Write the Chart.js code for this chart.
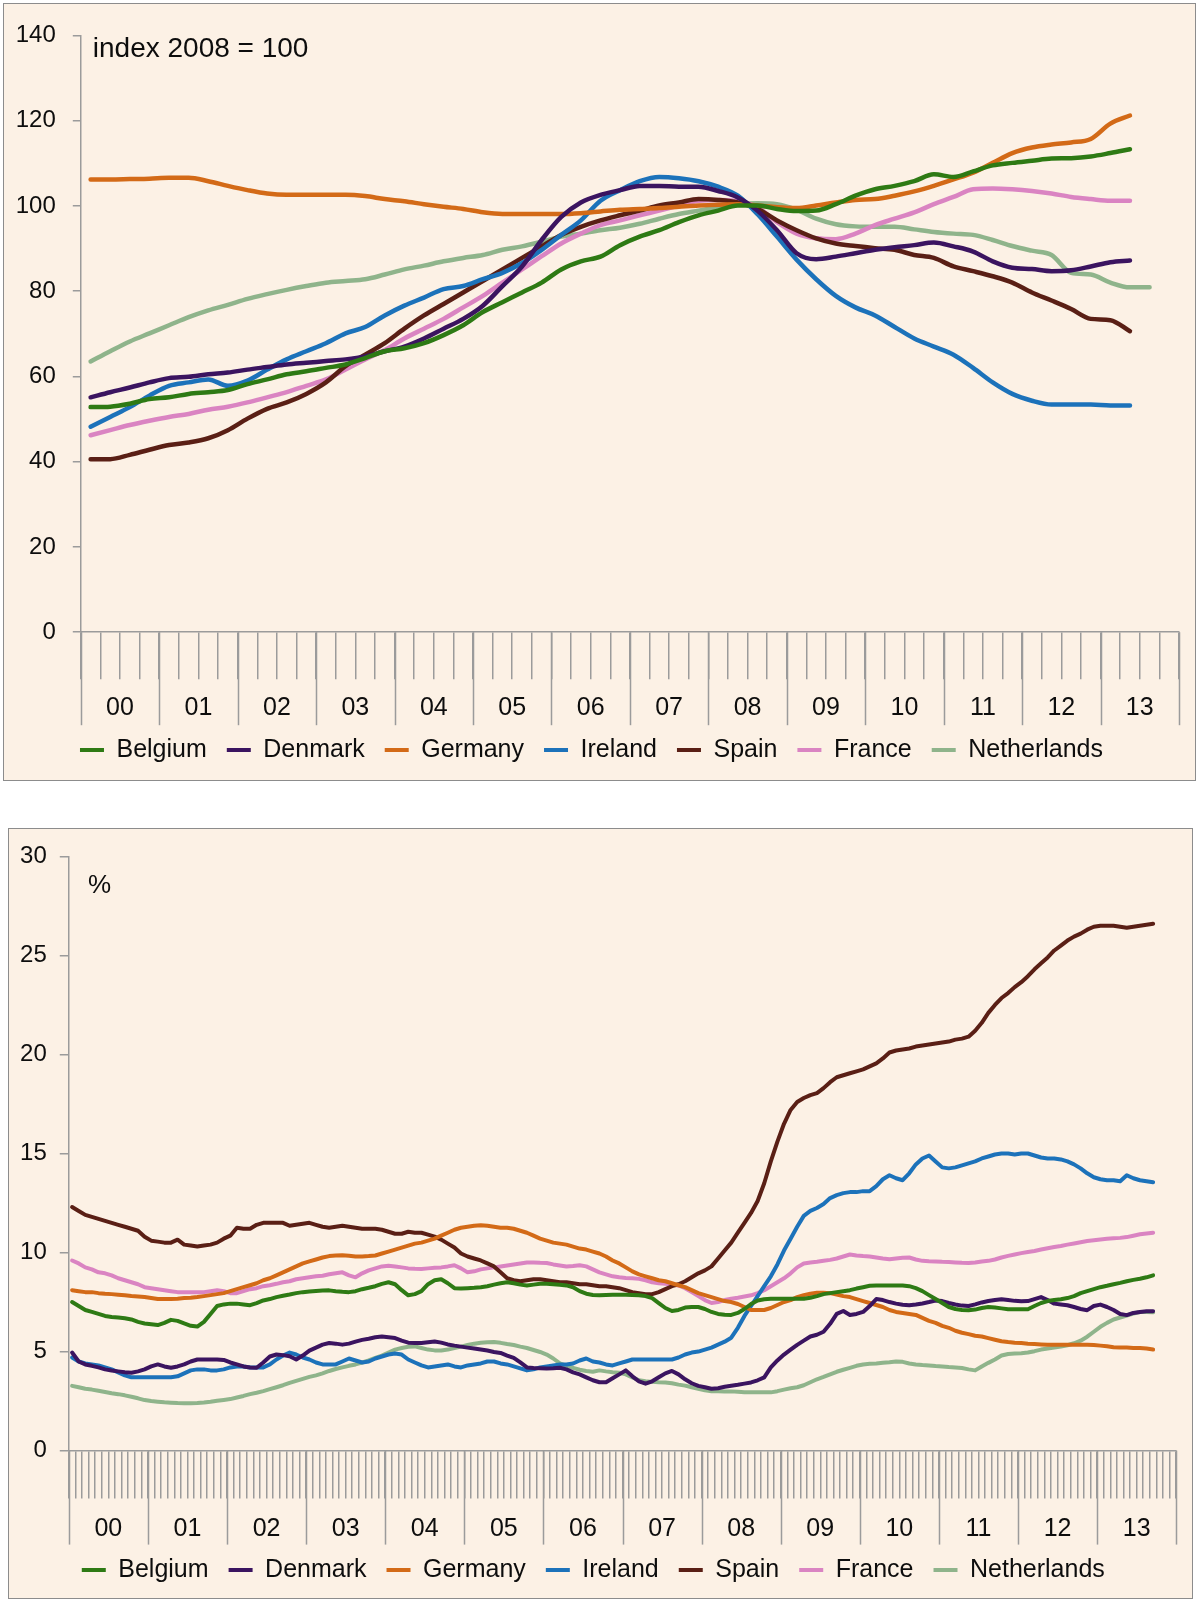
<!DOCTYPE html>
<html><head><meta charset="utf-8">
<script src="https://cdn.jsdelivr.net/npm/chart.js@4.4.1/dist/chart.umd.min.js"></script>
<style>
html,body{margin:0;padding:0;background:#ffffff;width:1200px;height:1604px;overflow:hidden;}
.panel{position:absolute;background:#FCF1E5;border:1px solid #8c8c8c;}
#p1{left:3px;top:3px;width:1191px;height:776px;}
#p2{left:8px;top:828px;width:1183px;height:769px;}
canvas{position:absolute;left:0;top:0;}
</style></head><body>
<div class="panel" id="p1"><canvas id="c1" width="1191" height="776" style="width:1191px;height:776px"></canvas></div>
<div class="panel" id="p2"><canvas id="c2" width="1183" height="769" style="width:1183px;height:769px"></canvas></div>
<script>
// ---------- shared ----------
const yearLabels = ['00','01','02','03','04','05','06','07','08','09','10','11','12','13'];
const countries = ['Belgium','Denmark','Germany','Ireland','Spain','France','Netherlands'];
const lineColors = ['#2E7A14','#3B1460','#D36A17','#1C72BA','#5A1F15','#DA84C2','#8FB48B'];

// ---------- top chart: house prices, quarterly from 2000Q1, index 2008 = 100 ----------
const belgiumIdx = [52.8,52.9,53.6,54.7,55.1,55.9,56.3,56.8,58.2,59.3,60.5,61.2,62.0,62.8,64.3,65.9,66.6,67.8,69.7,72.0,75.1,77.4,79.7,82.0,85.1,87.0,88.1,90.8,92.8,94.3,96.2,97.8,98.9,100.1,100.1,99.3,98.8,98.9,100.4,102.4,103.9,104.7,105.8,107.4,106.8,108.1,109.5,110.1,110.6,111.1,111.2,111.6,112.4,113.3];
const denmarkIdx = [55.1,56.3,57.4,58.6,59.6,59.9,60.5,60.9,61.6,62.2,62.8,63.2,63.6,64.0,64.7,65.9,67.0,68.9,71.2,73.5,76.6,81.2,85.8,92.0,97.4,100.8,102.6,103.7,104.7,104.7,104.5,104.5,103.5,102.0,98.9,94.3,88.9,87.5,88.1,88.9,89.7,90.3,90.8,91.4,90.5,89.3,87.0,85.5,85.2,84.7,84.9,85.8,86.8,87.2];
const germanyIdx = [106.2,106.2,106.3,106.4,106.6,106.6,105.8,104.7,103.7,102.9,102.6,102.6,102.6,102.6,102.3,101.6,101.1,100.4,99.8,99.3,98.5,98.1,98.1,98.1,98.1,98.3,98.7,99.1,99.3,99.5,99.8,100.1,100.3,100.4,100.1,99.7,99.5,100.1,100.8,101.4,101.6,102.4,103.4,104.7,106.2,107.8,110.1,112.4,113.7,114.4,114.9,115.7,119.3,121.2];
const irelandIdx = [48.2,50.5,52.8,55.5,57.8,58.6,59.3,57.8,59.0,61.6,64.0,65.9,67.8,70.1,71.6,74.3,76.6,78.5,80.5,81.2,82.8,84.3,86.6,89.7,93.2,96.6,101.2,103.7,105.8,106.8,106.5,105.8,104.5,102.4,98.1,92.8,87.4,82.8,78.9,76.2,74.3,71.6,68.9,67.0,65.1,62.0,58.6,55.9,54.3,53.4,53.4,53.4,53.2,53.2];
const spainIdx = [40.6,40.6,41.6,42.8,43.9,44.5,45.5,47.4,50.1,52.4,53.9,55.9,58.6,62.4,65.1,67.8,71.2,74.3,77.0,79.7,82.4,85.1,87.8,90.5,93.2,95.1,96.6,97.8,98.9,100.1,100.8,101.6,101.4,100.8,99.3,96.6,94.3,92.4,91.2,90.6,90.1,89.7,88.5,87.8,85.8,84.7,83.5,82.0,79.7,77.8,75.8,73.5,73.2,70.6];
const franceIdx = [46.2,47.4,48.6,49.6,50.5,51.2,52.2,52.9,53.9,55.1,56.3,57.8,59.3,61.6,64.0,66.2,68.9,71.2,73.5,76.2,78.9,82.0,85.1,88.2,91.2,93.5,95.5,96.6,97.8,98.9,100.1,101.2,101.4,101.1,99.7,96.2,93.5,92.4,92.2,93.5,95.5,97.0,98.5,100.4,102.1,103.9,104.1,103.9,103.5,102.9,102.1,101.6,101.2,101.2];
const netherlandsIdx = [63.5,65.9,68.2,70.1,72.0,73.9,75.5,76.8,78.2,79.3,80.3,81.2,82.0,82.4,82.8,83.9,85.1,86.0,87.0,87.8,88.5,89.7,90.5,91.6,92.8,93.5,94.3,94.9,95.8,97.0,98.1,98.9,99.7,100.4,100.6,100.4,99.1,97.0,95.7,95.2,95.1,95.1,94.5,93.9,93.5,93.2,92.0,90.6,89.5,88.5,84.3,83.9,82.0,80.9,80.9];
const yTicksTop = [0,20,40,60,80,100,120,140];

// ---------- bottom chart: unemployment rate, monthly from Jan 2000, % ----------
const belgiumUnemp = [
7.5,7.3,7.1,7.0,6.9,6.8,6.75,6.72,6.68,6.62,6.5,6.42,
6.38,6.34,6.45,6.6,6.55,6.42,6.3,6.26,6.5,6.9,7.3,7.38,
7.42,7.42,7.38,7.34,7.45,7.58,7.65,7.75,7.82,7.88,7.95,8.0,
8.03,8.06,8.08,8.09,8.05,8.02,8.0,8.05,8.15,8.22,8.3,8.42,
8.5,8.4,8.1,7.84,7.9,8.05,8.4,8.6,8.65,8.45,8.2,8.18,
8.2,8.22,8.25,8.3,8.38,8.45,8.5,8.45,8.38,8.34,8.38,8.42,
8.42,8.4,8.37,8.34,8.25,8.05,7.92,7.86,7.84,7.86,7.87,7.87,
7.87,7.86,7.84,7.8,7.7,7.45,7.2,7.05,7.1,7.22,7.25,7.25,
7.15,7.0,6.9,6.86,6.85,6.95,7.15,7.4,7.58,7.64,7.67,7.67,
7.67,7.67,7.67,7.67,7.72,7.8,7.9,7.95,8.0,8.05,8.1,8.18,
8.25,8.32,8.34,8.34,8.34,8.34,8.33,8.3,8.2,8.05,7.85,7.65,
7.45,7.25,7.15,7.1,7.09,7.12,7.2,7.25,7.22,7.18,7.14,7.14,
7.14,7.14,7.3,7.45,7.55,7.6,7.64,7.7,7.8,7.95,8.05,8.15,
8.25,8.32,8.4,8.47,8.55,8.62,8.68,8.75,8.85];
const denmarkUnemp = [
4.95,4.5,4.35,4.28,4.2,4.1,4.04,4.0,3.96,3.93,4.0,4.1,
4.25,4.35,4.25,4.18,4.25,4.35,4.5,4.6,4.6,4.6,4.6,4.58,
4.45,4.35,4.25,4.2,4.18,4.45,4.75,4.85,4.82,4.76,4.6,4.8,
5.05,5.2,5.35,5.43,5.4,5.35,5.4,5.5,5.59,5.65,5.72,5.76,
5.72,5.68,5.55,5.45,5.43,5.43,5.47,5.51,5.45,5.36,5.3,5.25,
5.2,5.15,5.1,5.05,4.98,4.93,4.8,4.68,4.45,4.2,4.17,4.16,
4.15,4.16,4.18,4.1,3.95,3.85,3.7,3.55,3.45,3.45,3.65,3.85,
4.05,3.75,3.5,3.38,3.5,3.7,3.9,4.02,3.85,3.6,3.4,3.27,
3.2,3.12,3.15,3.22,3.27,3.32,3.38,3.44,3.55,3.7,4.2,4.55,
4.85,5.1,5.34,5.55,5.76,5.85,6.0,6.4,6.9,7.05,6.85,6.9,
7.0,7.3,7.65,7.6,7.5,7.42,7.36,7.34,7.38,7.43,7.5,7.58,
7.55,7.45,7.38,7.32,7.3,7.38,7.48,7.55,7.6,7.64,7.6,7.56,
7.54,7.55,7.65,7.75,7.6,7.42,7.38,7.34,7.25,7.15,7.09,7.3,
7.37,7.25,7.1,6.9,6.84,6.95,7.0,7.03,7.04];
const germanyUnemp = [
8.1,8.05,8.0,8.0,7.95,7.92,7.9,7.87,7.84,7.8,7.78,7.75,
7.7,7.65,7.65,7.66,7.67,7.7,7.72,7.75,7.8,7.85,7.9,7.95,
8.05,8.15,8.25,8.35,8.45,8.6,8.7,8.85,9.0,9.15,9.3,9.45,
9.55,9.65,9.75,9.82,9.85,9.86,9.84,9.8,9.8,9.82,9.85,9.95,
10.05,10.15,10.25,10.35,10.45,10.5,10.6,10.7,10.85,11.0,11.15,11.25,
11.3,11.35,11.38,11.35,11.3,11.25,11.25,11.2,11.1,11.0,10.85,10.7,
10.6,10.5,10.45,10.4,10.3,10.2,10.15,10.05,9.95,9.8,9.6,9.45,
9.25,9.05,8.9,8.8,8.7,8.6,8.55,8.45,8.35,8.25,8.1,7.95,
7.85,7.75,7.65,7.55,7.5,7.4,7.25,7.1,7.1,7.1,7.2,7.35,
7.5,7.6,7.75,7.85,7.92,7.97,7.97,7.95,7.88,7.8,7.75,7.65,
7.55,7.45,7.35,7.25,7.1,7.0,6.95,6.9,6.85,6.7,6.55,6.45,
6.3,6.2,6.05,5.95,5.88,5.8,5.76,5.68,5.6,5.52,5.48,5.45,
5.43,5.4,5.38,5.36,5.34,5.34,5.34,5.34,5.34,5.34,5.34,5.33,
5.3,5.27,5.22,5.2,5.2,5.18,5.18,5.15,5.1];
const irelandUnemp = [
4.7,4.5,4.4,4.35,4.3,4.2,4.1,3.95,3.8,3.7,3.7,3.7,
3.7,3.7,3.7,3.7,3.75,3.9,4.05,4.1,4.1,4.05,4.05,4.1,
4.2,4.25,4.25,4.2,4.2,4.2,4.35,4.6,4.8,4.95,4.85,4.7,
4.6,4.45,4.35,4.35,4.35,4.5,4.65,4.55,4.45,4.5,4.65,4.75,
4.85,4.9,4.85,4.6,4.45,4.3,4.2,4.25,4.3,4.35,4.25,4.2,
4.3,4.35,4.4,4.5,4.5,4.4,4.35,4.25,4.15,4.05,4.1,4.2,
4.25,4.3,4.35,4.35,4.4,4.55,4.65,4.5,4.45,4.35,4.3,4.4,
4.5,4.6,4.6,4.6,4.6,4.6,4.6,4.6,4.7,4.85,4.95,5.0,
5.1,5.2,5.35,5.5,5.7,6.2,6.8,7.3,7.8,8.3,8.8,9.4,
10.1,10.7,11.3,11.85,12.1,12.25,12.45,12.75,12.9,13.0,13.05,13.05,
13.1,13.1,13.35,13.7,13.9,13.75,13.65,14.0,14.45,14.75,14.9,14.6,
14.3,14.25,14.3,14.4,14.5,14.6,14.75,14.85,14.95,15.0,15.0,14.95,
15.0,15.0,14.9,14.8,14.75,14.75,14.7,14.6,14.45,14.25,14.0,13.8,
13.7,13.65,13.65,13.6,13.9,13.75,13.65,13.6,13.55];
const spainUnemp = [
12.3,12.1,11.9,11.8,11.7,11.6,11.5,11.4,11.3,11.2,11.1,10.8,
10.6,10.55,10.5,10.5,10.65,10.4,10.35,10.3,10.35,10.4,10.5,10.7,
10.85,11.25,11.2,11.2,11.4,11.5,11.5,11.5,11.5,11.35,11.4,11.45,
11.5,11.4,11.3,11.25,11.3,11.35,11.3,11.25,11.2,11.2,11.2,11.15,
11.05,10.95,10.95,11.05,11.0,11.0,10.9,10.8,10.65,10.45,10.25,9.95,
9.8,9.7,9.6,9.45,9.3,9.0,8.7,8.6,8.55,8.6,8.65,8.65,
8.6,8.55,8.5,8.5,8.45,8.4,8.4,8.35,8.3,8.3,8.25,8.2,
8.1,8.0,7.95,7.9,7.9,8.0,8.15,8.3,8.4,8.55,8.75,8.95,
9.1,9.3,9.7,10.1,10.5,11.0,11.5,12.0,12.6,13.5,14.6,15.6,
16.5,17.2,17.6,17.8,17.95,18.05,18.3,18.6,18.85,18.95,19.05,19.15,
19.25,19.4,19.55,19.8,20.1,20.2,20.25,20.3,20.4,20.45,20.5,20.55,
20.6,20.65,20.75,20.8,20.9,21.2,21.6,22.1,22.5,22.85,23.1,23.4,
23.65,23.95,24.3,24.6,24.9,25.25,25.5,25.75,25.95,26.1,26.3,26.45,
26.5,26.5,26.5,26.45,26.4,26.45,26.5,26.55,26.6];
const franceUnemp = [
9.6,9.45,9.25,9.15,9.0,8.95,8.85,8.7,8.6,8.5,8.4,8.25,
8.2,8.15,8.1,8.05,8.0,8.0,8.0,8.0,8.0,8.05,8.1,8.05,
7.95,7.95,8.05,8.15,8.2,8.3,8.35,8.42,8.5,8.55,8.65,8.7,
8.75,8.8,8.83,8.9,8.95,9.0,8.85,8.75,8.95,9.1,9.2,9.3,
9.33,9.3,9.25,9.2,9.18,9.17,9.2,9.23,9.25,9.3,9.36,9.2,
9.0,9.05,9.15,9.2,9.25,9.3,9.35,9.4,9.45,9.5,9.5,9.48,
9.47,9.4,9.35,9.3,9.32,9.36,9.3,9.15,9.0,8.9,8.8,8.75,
8.72,8.7,8.67,8.6,8.5,8.45,8.42,8.38,8.34,8.2,8.0,7.8,
7.6,7.45,7.5,7.6,7.67,7.72,7.78,7.84,7.95,8.1,8.3,8.5,
8.7,8.95,9.25,9.45,9.5,9.53,9.58,9.63,9.7,9.8,9.9,9.85,
9.82,9.8,9.75,9.7,9.66,9.7,9.74,9.75,9.65,9.58,9.56,9.55,
9.53,9.52,9.5,9.48,9.47,9.5,9.55,9.58,9.65,9.75,9.83,9.9,
9.97,10.03,10.08,10.15,10.22,10.28,10.33,10.4,10.46,10.52,10.58,10.62,
10.66,10.69,10.72,10.74,10.78,10.85,10.92,10.96,11.0];
const netherlandsUnemp = [
3.27,3.2,3.12,3.08,3.02,2.96,2.9,2.85,2.79,2.72,2.64,2.55,
2.5,2.47,2.44,2.42,2.4,2.39,2.39,2.4,2.43,2.47,2.52,2.56,
2.6,2.68,2.76,2.85,2.92,3.0,3.1,3.2,3.3,3.42,3.52,3.62,
3.72,3.8,3.9,4.02,4.12,4.2,4.28,4.35,4.45,4.55,4.68,4.8,
4.95,5.1,5.18,5.24,5.26,5.18,5.1,5.06,5.05,5.1,5.18,5.25,
5.33,5.4,5.44,5.47,5.48,5.44,5.38,5.33,5.25,5.18,5.08,4.98,
4.85,4.65,4.4,4.28,4.18,4.08,4.02,3.98,4.05,4.0,3.96,3.93,
3.85,3.7,3.55,3.5,3.47,3.45,3.44,3.4,3.33,3.28,3.2,3.12,
3.04,3.0,3.0,2.99,2.99,2.97,2.95,2.94,2.94,2.94,2.94,3.0,
3.08,3.15,3.2,3.3,3.45,3.6,3.72,3.85,3.98,4.08,4.18,4.28,
4.35,4.38,4.4,4.43,4.46,4.5,4.48,4.4,4.35,4.32,4.3,4.27,
4.25,4.22,4.2,4.17,4.1,4.05,4.25,4.43,4.6,4.8,4.88,4.9,
4.92,4.95,5.02,5.1,5.15,5.2,5.25,5.32,5.42,5.55,5.75,6.0,
6.25,6.45,6.62,6.72,6.82,6.92,7.0,7.0,6.98];
const yTicksBottom = [0,5,10,15,20,25,30];

// ---------- helpers ----------
const FONT = '"Liberation Sans", Arial, Helvetica, sans-serif';
const TXT = '#0d0d0d';
const AXIS = '#9b9b9b';

const yearTicks = {
  id: 'yearTicks',
  afterDraw(chart, args, o) {
    const xs = chart.scales.x, ctx = chart.ctx;
    ctx.save();
    ctx.strokeStyle = o.color; ctx.lineWidth = o.width;
    for (let v = xs.min; v <= xs.max; v += o.every) {
      const px = Math.round(xs.getPixelForValue(v)) + 0.5;
      ctx.beginPath(); ctx.moveTo(px, xs.top); ctx.lineTo(px, xs.top + o.length); ctx.stroke();
    }
    ctx.restore();
  }
};
const cornerText = {
  id: 'cornerText',
  afterDraw(chart, args, o) {
    const {ctx, chartArea} = chart;
    ctx.save();
    ctx.font = o.font; ctx.fillStyle = o.color; ctx.textBaseline = 'middle'; ctx.textAlign = 'left';
    ctx.fillText(o.text, chartArea.left + o.dx, chartArea.top + o.dy);
    ctx.restore();
  }
};

function build(canvasId, seriesList, cfg) {
  const datasets = seriesList.map((vals, k) => ({
    label: countries[k],
    data: vals.map((v, i) => ({x: i + 0.5, y: v})),
    borderColor: lineColors[k],
    backgroundColor: lineColors[k],
    borderWidth: cfg.lineWidth,
    pointRadius: 0,
    fill: false,
    tension: cfg.tension,
    cubicInterpolationMode: cfg.cubic ? 'monotone' : 'default',
    borderJoinStyle: 'round',
    borderCapStyle: 'round'
  }));
  const nPeriods = yearLabels.length * cfg.perYear;
  return new Chart(document.getElementById(canvasId), {
    type: 'line',
    data: {datasets},
    options: {
      responsive: false,
      animation: false,
      events: [],
      layout: {padding: cfg.padding},
      scales: {
        x: {
          type: 'linear', min: 0, max: nPeriods,
          afterFit: s => { s.height = cfg.xHeight; },
          border: {display: true, color: AXIS, width: 1.5},
          grid: {display: true, drawOnChartArea: false, drawTicks: true, tickLength: cfg.shortTick, color: AXIS, lineWidth: 1.5},
          ticks: {
            stepSize: 1, autoSkip: false, maxRotation: 0, minRotation: 0, maxTicksLimit: 1000,
            padding: cfg.xPad, color: TXT, font: {family: FONT, size: 25},
            callback: v => (v % cfg.perYear === cfg.perYear / 2) ? yearLabels[(v - cfg.perYear / 2) / cfg.perYear] : ''
          }
        },
        y: {
          min: 0, max: cfg.yTicks[cfg.yTicks.length - 1],
          afterFit: s => { s.width = cfg.yWidth; },
          afterBuildTicks: s => { s.ticks = cfg.yTicks.map(v => ({value: v})); },
          border: {display: true, color: AXIS, width: 1.5},
          grid: {display: true, drawOnChartArea: false, drawTicks: true, tickLength: cfg.yTick, color: AXIS, lineWidth: 1.5},
          ticks: {padding: cfg.yPad, color: TXT, font: {family: FONT, size: 24}}
        }
      },
      plugins: {
        legend: {
          display: true, position: 'bottom', align: 'center',
          labels: {
            color: TXT, font: {family: FONT, size: 25},
            boxWidth: 24, boxHeight: 4, padding: 20,
            generateLabels: chart => Chart.defaults.plugins.legend.labels.generateLabels(chart).map(it => Object.assign(it, {lineWidth: 0, fillStyle: it.strokeStyle}))
          }
        },
        tooltip: {enabled: false},
        yearTicks: {color: AXIS, width: 1.5, every: cfg.perYear, length: cfg.longTick},
        cornerText: {text: cfg.corner, font: cfg.cornerFont, color: TXT, dx: cfg.cornerDx, dy: cfg.cornerDy}
      }
    },
    plugins: [yearTicks, cornerText]
  });
}

build('c1', [belgiumIdx, denmarkIdx, germanyIdx, irelandIdx, spainIdx, franceIdx, netherlandsIdx], {
  perYear: 4, yTicks: yTicksTop, lineWidth: 4.5, tension: 0.3, cubic: true,
  padding: {left: 0, top: 21.6, right: 16, bottom: 7.5},
  yWidth: 76.8, xHeight: 85.3, shortTick: 47, longTick: 93, xPad: 13.8,
  yTick: 8, yPad: 17,
  corner: 'index 2008 = 100', cornerFont: '28px ' + FONT, cornerDx: 12, cornerDy: 13.4
});
build('c2', [belgiumUnemp, denmarkUnemp, germanyUnemp, irelandUnemp, spainUnemp, franceUnemp, netherlandsUnemp], {
  perYear: 12, yTicks: yTicksBottom, lineWidth: 4, tension: 0, cubic: false,
  padding: {left: 0, top: 20, right: 14.4, bottom: 5.5},
  yWidth: 59.8, xHeight: 86.9, shortTick: 48, longTick: 94, xPad: 15.8,
  yTick: 9, yPad: 13,
  corner: '%', cornerFont: '26px ' + FONT, cornerDx: 19.2, cornerDy: 29.5
});
</script>
</body></html>
